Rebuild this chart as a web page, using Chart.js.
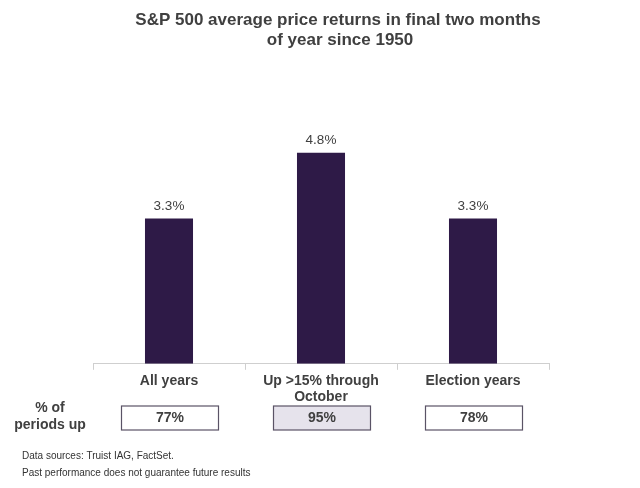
<!DOCTYPE html>
<html>
<head>
<meta charset="utf-8">
<script src="https://cdn.jsdelivr.net/npm/chart.js@4/dist/chart.umd.min.js"></script>
<style>
  html, body { margin: 0; padding: 0; background: #fff; }
  #wrap { width: 640px; height: 488px; }
</style>
</head>
<body>
<div id="wrap"><canvas id="myChart"></canvas></div>
<script>
const categories = ['All years', ['Up >15% through', 'October'], 'Election years'];
const avgReturns = [3.3, 4.8, 3.3];
const pctPeriodsUp = [77, 95, 78];
const highlighted = [false, true, false];
const titleLines = ['S&P 500 average price returns in final two months', 'of year since 1950'];
const footnotes = ['Data sources: Truist IAG, FactSet.', 'Past performance does not guarantee future results'];

const textColor = '#404040';
const barColor = '#2e1a47';
const fontFamily = '"Liberation Sans", Arial, sans-serif';

// title, boxes under the axis with "% of periods up", and the footnotes
const extrasPlugin = {
    id: 'extras',
    afterDraw(chart) {
        const ctx = chart.ctx;
        const x = chart.scales.x;
        ctx.save();
        ctx.textAlign = 'center';
        ctx.textBaseline = 'middle';

        ctx.font = 'bold 17px ' + fontFamily;
        ctx.fillStyle = textColor;
        ctx.fillText(titleLines[0], 338, 20);
        ctx.fillText(titleLines[1], 340, 40);

        ctx.font = 'bold 14px ' + fontFamily;
        ctx.fillText('% of', 50, 408);
        ctx.fillText('periods up', 50, 425);

        pctPeriodsUp.forEach((v, i) => {
            const cx = x.getPixelForValue(i) + 1;
            const w = 97, h = 24, top = 406;
            ctx.fillStyle = highlighted[i] ? '#e6e3ec' : '#fff';
            ctx.fillRect(cx - w / 2, top, w, h);
            ctx.strokeStyle = '#5a5366';
            ctx.lineWidth = 1.2;
            ctx.strokeRect(cx - w / 2, top, w, h);
            ctx.fillStyle = textColor;
            ctx.fillText(v + '%', cx, top + h / 2 + 0.5);
        });

        ctx.font = '10px ' + fontFamily;
        ctx.fillStyle = '#333';
        ctx.textAlign = 'left';
        ctx.fillText(footnotes[0], 22, 456);
        ctx.fillText(footnotes[1], 22, 473);
        ctx.restore();
    }
};

// value labels above bars
const valueLabels = {
    id: 'valueLabels',
    afterDatasetsDraw(chart) {
        const ctx = chart.ctx;
        const meta = chart.getDatasetMeta(0);
        ctx.save();
        ctx.font = '13.5px ' + fontFamily;
        ctx.fillStyle = textColor;
        ctx.textAlign = 'center';
        ctx.textBaseline = 'bottom';
        meta.data.forEach((bar, i) => {
            ctx.fillText(avgReturns[i].toFixed(1) + '%', bar.x, bar.y - 6);
        });
        ctx.restore();
    }
};

const ctx = document.getElementById('myChart').getContext('2d');
const chart = new Chart(ctx, {
    type: 'bar',
    data: {
        labels: categories,
        datasets: [{
            data: avgReturns,
            backgroundColor: barColor,
            categoryPercentage: 1,
            barPercentage: 0.316
        }]
    },
    options: {
        responsive: true,
        maintainAspectRatio: false,
        animation: false,
        layout: { padding: { left: 93, right: 91, top: 128, bottom: 80 } },
        plugins: {
            legend: { display: false },
            tooltip: { enabled: false },
            title: { display: false }
        },
        scales: {
            x: {
                offset: true,
                border: { display: true, color: '#cfcfcf', width: 1 },
                grid: { offset: true, drawOnChartArea: false, drawTicks: true, tickLength: 6, color: '#cfcfcf' },
                ticks: {
                    color: textColor,
                    padding: 3,
                    maxRotation: 0,
                    font: { family: fontFamily, size: 14, weight: 'bold', lineHeight: 1.15 }
                }
            },
            y: {
                display: false,
                min: 0,
                max: 5.36
            }
        }
    },
    plugins: [valueLabels, extrasPlugin]
});
</script>
</body>
</html>
